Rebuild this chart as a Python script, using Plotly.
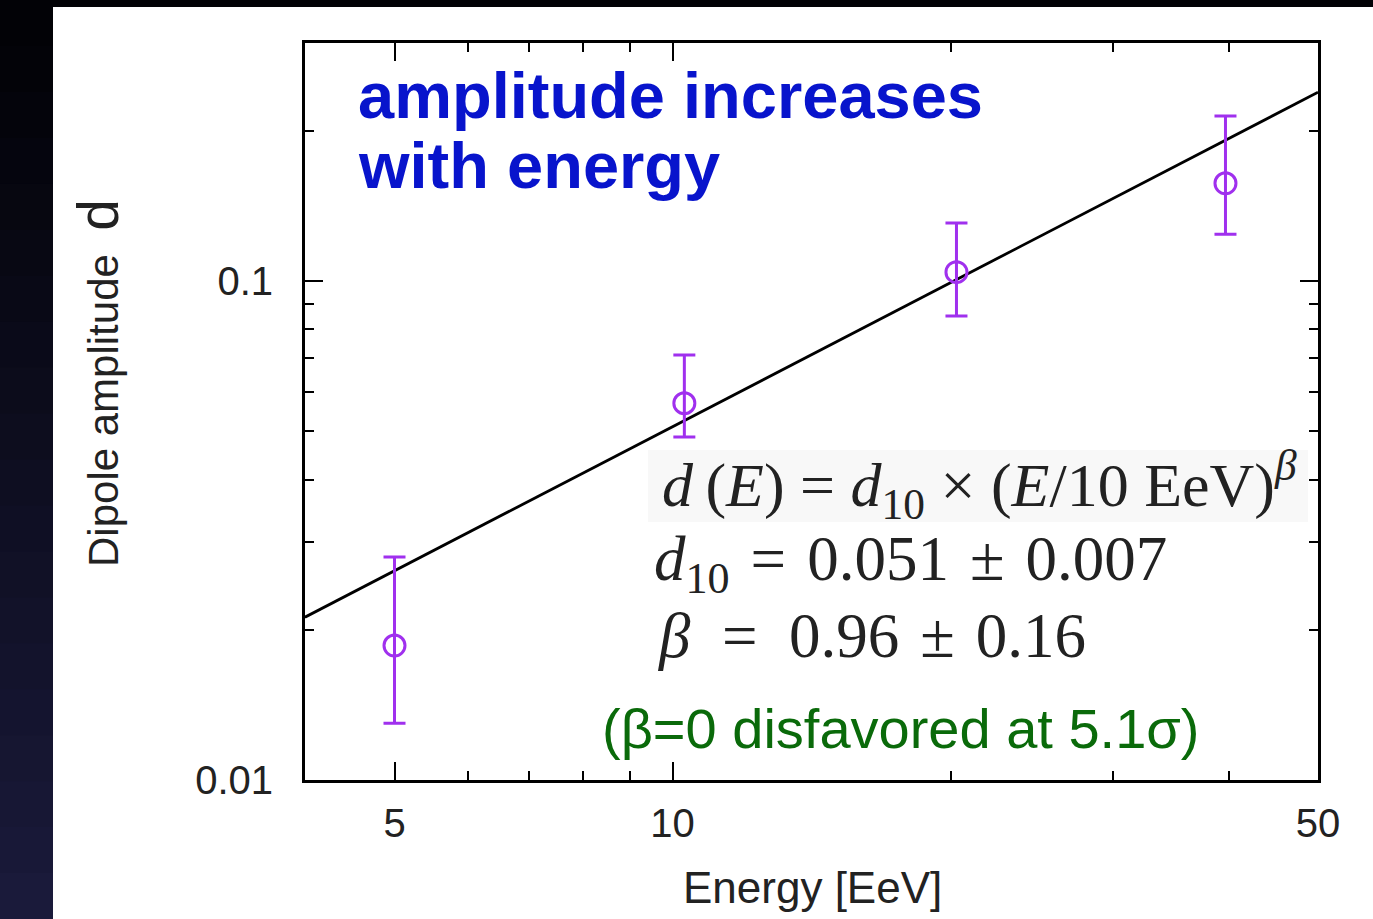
import plotly.graph_objects as go

# ---- data ----
energy = [5.0, 10.3, 20.3, 39.7]           # EeV
dipole = [0.0186, 0.0569, 0.1042, 0.157]    # dipole amplitude d
d_upper = [0.0280, 0.0711, 0.1307, 0.2142]  # upper end of error bar
d_lower = [0.0130, 0.0487, 0.0851, 0.1241]  # lower end of error bar

fit_energy = [4.0, 50.0]     # fit line end points
fit_dipole = [0.0212, 0.239]

x_tick_vals = [5, 10, 50]
x_tick_text = ["5", "10", "50"]
x_minor_vals = [6, 7, 8, 9, 20, 30, 40]
y_tick_vals = [0.01, 0.1]
y_tick_text = ["0.01", "0.1"]
y_minor_vals = [0.02, 0.03, 0.04, 0.05, 0.06, 0.07, 0.08, 0.09, 0.2]

err_plus = [u - v for u, v in zip(d_upper, dipole)]
err_minus = [v - l for v, l in zip(dipole, d_lower)]

W, H = 1373, 919
L, R, T, B = 305, 1318, 43, 780


def px(xp):
    return (xp - L) / (R - L)


def py(yp):
    return (B - yp) / (B - T)


PURPLE = "#a030ee"

fig = go.Figure()
fig.add_trace(go.Scatter(
    x=fit_energy, y=fit_dipole, mode="lines",
    line=dict(color="black", width=2.8), showlegend=False, hoverinfo="skip"))
fig.add_trace(go.Scatter(
    x=energy, y=dipole, mode="markers",
    marker=dict(symbol="circle-open", size=21, color=PURPLE, line=dict(width=3, color=PURPLE)),
    error_y=dict(type="data", array=err_plus, arrayminus=err_minus, symmetric=False,
                 color=PURPLE, thickness=3, width=11),
    showlegend=False))

shapes = []
# white panel
shapes.append(dict(type="rect", xref="paper", yref="paper", x0=px(53), x1=px(W + 5),
                   y0=py(H + 5), y1=py(7), fillcolor="white", line=dict(width=0), layer="below"))
# left dark gradient strip
n = 20
for i in range(n):
    t = i / (n - 1)
    r = int(2 + 24 * t)
    g = int(2 + 24 * t)
    b = int(6 + 52 * t)
    shapes.append(dict(type="rect", xref="paper", yref="paper", x0=px(-5), x1=px(53),
                       y0=py((i + 1) * H / n + 1), y1=py(i * H / n),
                       fillcolor=f"rgb({r},{g},{b})", line=dict(width=0), layer="below"))
# faint box behind equation
shapes.append(dict(type="rect", xref="paper", yref="paper", x0=px(648), x1=px(1308),
                   y0=py(522), y1=py(450), fillcolor="#f8f8f8", line=dict(width=0), layer="below"))

ann = []
TITLE_BLUE = "#0814cc"
ann.append(dict(text="<b>amplitude increases</b>", xref="paper", yref="paper",
                x=px(356), y=py(95), xanchor="left", yanchor="middle", showarrow=False,
                font=dict(family="Liberation Sans", size=65, color=TITLE_BLUE)))
ann.append(dict(text="<b>with energy</b>", xref="paper", yref="paper",
                x=px(356), y=py(165), xanchor="left", yanchor="middle", showarrow=False,
                font=dict(family="Liberation Sans", size=65, color=TITLE_BLUE)))

SP = "\u2004"
EN = "\u2002"
EQ1 = dict(family="Liberation Serif", size=62, color="#222222")
EQ_FONT = dict(family="Liberation Serif", size=63, color="#222222")
ann.append(dict(text="<i>d</i>\u2009(<i>E</i>) = <i>d</i><sub>10</sub> × (<i>E</i>/10 EeV)<sup><i>β</i></sup>",
                xref="paper", yref="paper", x=px(660), y=py(484), xanchor="left", yanchor="middle",
                showarrow=False, font=EQ1))
ann.append(dict(text=f"<i>d</i><sub>10</sub>{SP}={SP}0.051{SP}±{SP}0.007",
                xref="paper", yref="paper", x=px(652), y=py(563), xanchor="left", yanchor="middle",
                showarrow=False, font=EQ_FONT))
ann.append(dict(text=f"<i>β</i>{EN}={EN}0.96{SP}±{SP}0.16",
                xref="paper", yref="paper", x=px(655), y=py(636), xanchor="left", yanchor="middle",
                showarrow=False, font=EQ_FONT))
ann.append(dict(text="(β=0 disfavored at 5.1σ)",
                xref="paper", yref="paper", x=px(600), y=py(728), xanchor="left", yanchor="middle",
                showarrow=False, font=dict(family="Liberation Sans", size=56, color="#0a6a0a")))

ann.append(dict(text="Energy [EeV]", xref="paper", yref="paper", x=px(812), y=py(887),
                xanchor="center", yanchor="middle", showarrow=False,
                font=dict(family="Liberation Sans", size=44, color="#222222")))
ann.append(dict(text="Dipole amplitude  <span style='font-size:57px'>d</span>",
                xref="paper", yref="paper", x=px(98), y=py(383), textangle=-90,
                xanchor="center", yanchor="middle", showarrow=False,
                font=dict(family="Liberation Sans", size=42, color="#222222")))

fig.update_layout(
    width=W, height=H,
    margin=dict(l=L, r=W - R, t=T, b=H - B, pad=0),
    paper_bgcolor="#020206", plot_bgcolor="rgba(0,0,0,0)",
    shapes=shapes, annotations=ann, showlegend=False,
)
fig.update_xaxes(
    type="log", range=[0.60206, 1.69897], showgrid=False, zeroline=False,
    showline=True, linewidth=3, linecolor="black", mirror="ticks",
    ticks="inside", ticklen=18, tickwidth=2, tickcolor="black",
    tickvals=x_tick_vals, ticktext=x_tick_text, ticklabelstandoff=6,
    tickfont=dict(family="Liberation Sans", size=40, color="#222222"),
    minor=dict(tickvals=x_minor_vals, ticks="inside", ticklen=9, tickwidth=2, tickcolor="black", showgrid=False),
)
fig.update_yaxes(
    type="log", range=[-2, -0.5229], showgrid=False, zeroline=False,
    showline=True, linewidth=3, linecolor="black", mirror="ticks",
    ticks="inside", ticklen=18, tickwidth=2, tickcolor="black",
    tickvals=y_tick_vals, ticktext=y_tick_text, ticklabelstandoff=21,
    tickfont=dict(family="Liberation Sans", size=40, color="#222222"),
    minor=dict(tickvals=y_minor_vals, ticks="inside", ticklen=9, tickwidth=2, tickcolor="black", showgrid=False),
)

fig.write_html("out.html")
